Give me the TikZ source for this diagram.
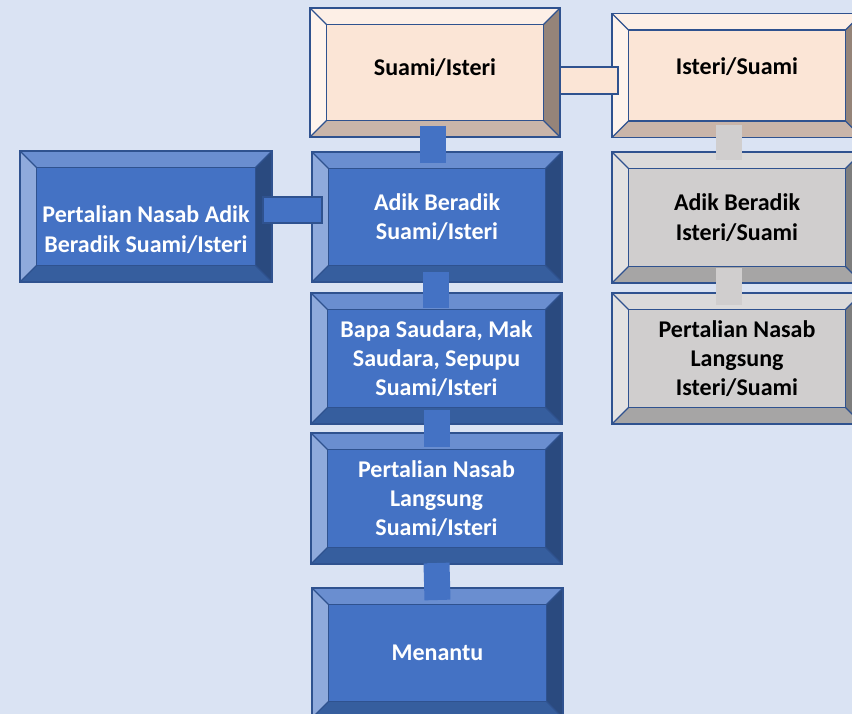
\documentclass[tikz,border=0pt]{standalone}
\usepackage{fontspec}
\setmainfont{Carlito}
\definecolor{bgblue}{HTML}{DAE3F3}
\definecolor{edgeblue}{HTML}{2F528F}
\definecolor{bluface}{HTML}{4472C4}
\definecolor{blutop}{HTML}{6A8ED0}
\definecolor{bluleft}{HTML}{8FAADC}
\definecolor{bluright}{HTML}{2A4A7F}
\definecolor{blubottom}{HTML}{365E9E}
\definecolor{peachface}{HTML}{FBE5D6}
\definecolor{peachtop}{HTML}{FDEFE6}
\definecolor{peachleft}{HTML}{FEF3EC}
\definecolor{peachright}{HTML}{958479}
\definecolor{peachbottom}{HTML}{C9B5A9}
\definecolor{greyface}{HTML}{D0CECE}
\definecolor{greytop}{HTML}{DBDADA}
\definecolor{greyleft}{HTML}{E3E2E2}
\definecolor{greyright}{HTML}{7E7E7E}
\definecolor{greybottom}{HTML}{A6A5A5}
\newcommand{\bevw}{16.5pt}
\newcommand{\liftby}[2]{\raisebox{#1}[\height][\depth]{\begin{tabular}{@{}c@{}}#2\end{tabular}}}
\tikzset{
	bevel/.style n args={5}{rectangle, draw=edgeblue, line width=1.5pt, fill=#1, outer sep=0pt,
		minimum width=250pt, minimum height=130pt,
		path picture={
			\coordinate (bnw) at (path picture bounding box.north west);
			\coordinate (bne) at (path picture bounding box.north east);
			\coordinate (bsw) at (path picture bounding box.south west);
			\coordinate (bse) at (path picture bounding box.south east);
			\fill[#2] (bnw) -- (bne) -- ([xshift=-\bevw,yshift=-\bevw]bne) -- ([xshift=\bevw,yshift=-\bevw]bnw) -- cycle;
			\fill[#3] (bnw) -- (bsw) -- ([xshift=\bevw,yshift=\bevw]bsw) -- ([xshift=\bevw,yshift=-\bevw]bnw) -- cycle;
			\fill[#4] (bne) -- (bse) -- ([xshift=-\bevw,yshift=\bevw]bse) -- ([xshift=-\bevw,yshift=-\bevw]bne) -- cycle;
			\fill[#5] (bsw) -- (bse) -- ([xshift=-\bevw,yshift=\bevw]bse) -- ([xshift=\bevw,yshift=\bevw]bsw) -- cycle;
			\draw[edgeblue, line width=1.2pt] ([xshift=\bevw,yshift=-\bevw]bnw) rectangle ([xshift=-\bevw,yshift=\bevw]bse);
			\draw[edgeblue, line width=1.2pt] (bnw) -- ([xshift=\bevw,yshift=-\bevw]bnw) (bne) -- ([xshift=-\bevw,yshift=-\bevw]bne)
				(bsw) -- ([xshift=\bevw,yshift=\bevw]bsw) (bse) -- ([xshift=-\bevw,yshift=\bevw]bse);
		}},
	bluebox/.style={bevel={bluface}{blutop}{bluleft}{bluright}{blubottom}, text=white},
	peachbox/.style={bevel={peachface}{peachtop}{peachleft}{peachright}{peachbottom}, text=black},
	greybox/.style={bevel={greyface}{greytop}{greyleft}{greyright}{greybottom}, text=black},
	vconn/.style={draw=#1, line width=26pt, line cap=butt},
	hconn/.style={draw=edgeblue, line width=1.5pt, fill=#1}
}
\begin{document}
\begin{tikzpicture}[x=1pt, y=-1pt, every node/.style={align=center, font=\fontsize{24}{29.3}\selectfont\bfseries}]
		\fill[bgblue] (0,0) rectangle (852,714);
		\useasboundingbox (0,0) rectangle (852,714);
		\node[peachbox, minimum height=129pt] (suami) at (435,72.5) {\liftby{3pt}{Suami/Isteri}};
		\node[peachbox, minimum height=124pt] (isteri) at (737,75.5) {\liftby{7pt}{Isteri/Suami}};
		\node[bluebox] (adiks) at (437,217) {Adik Beradik\\Suami/Isteri};
		\node[bluebox, minimum width=252pt, minimum height=131pt] (nasabadik) at (146,216.5) {\liftby{-15pt}{Pertalian Nasab Adik\\Beradik Suami/Isteri}};
		\node[bluebox, minimum width=251pt, minimum height=131pt] (bapa) at (436.5,358.5) {Bapa Saudara, Mak\\Saudara, Sepupu\\Suami/Isteri};
		\node[bluebox, minimum width=251pt, minimum height=131pt] (nasabs) at (436.5,498.5) {Pertalian Nasab\\Langsung\\Suami/Isteri};
		\node[bluebox, minimum width=251pt] (menantu) at (437.5,653) {\liftby{-2pt}{Menantu}};
		\node[greybox, minimum height=131pt] (adiki) at (737,217.5) {Adik Beradik\\Isteri/Suami};
		\node[greybox, minimum height=131pt] (nasabi) at (737,358.5) {Pertalian Nasab\\Langsung\\Isteri/Suami};
		\draw[hconn=peachface] ([yshift=5.5pt]suami.east) rectangle ([xshift=6pt,yshift=-18.5pt]isteri.west);
		\draw[hconn=bluface] ([xshift=-9pt,yshift=19.5pt]nasabadik.east) rectangle ([xshift=10pt,yshift=-6pt]adiks.west);
		\draw[vconn=bluface] ([xshift=-2pt,yshift=11pt]suami.south) -- ([xshift=-2pt,yshift=-11pt]suami.south |- adiks.north);
		\draw[vconn=bluface] ([xshift=-1pt,yshift=10pt]adiks.south) -- ([xshift=-1pt,yshift=-15pt]adiks.south |- bapa.north);
		\draw[vconn=bluface] ([yshift=14pt]bapa.south) -- ([yshift=-14pt]nasabs.north);
		\draw[vconn=bluface] ([yshift=1pt]nasabs.south) -- ([yshift=-12pt]menantu.north);
		\draw[vconn=greyface] ([xshift=-8pt,yshift=12.5pt]isteri.south) -- ([xshift=-8pt,yshift=-8pt]isteri.south |- adiki.north);
		\draw[vconn=greyface] ([xshift=-8pt,yshift=15pt]adiki.south) -- ([xshift=-8pt,yshift=-12pt]nasabi.north);
	\end{tikzpicture}
\end{document}
